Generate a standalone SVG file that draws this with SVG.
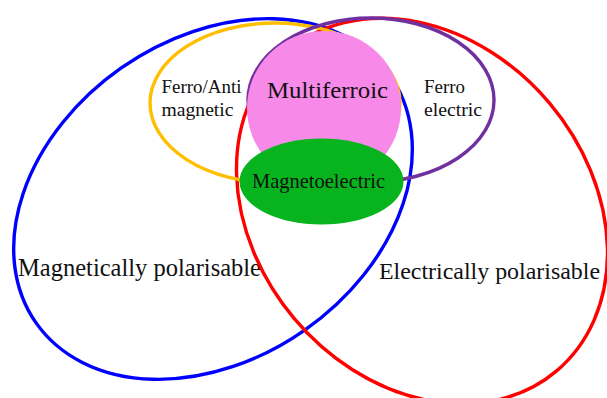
<svg xmlns="http://www.w3.org/2000/svg" width="607" height="398" viewBox="0 0 607 398">
  <style>
    .ring { fill: none; stroke-width: 3.4; }
    .lbl { font-family: "Liberation Serif", "Times New Roman", serif; fill: #111; }
  </style>
  <rect width="607" height="398" fill="#ffffff"/>

  <!-- Magnetically polarisable -->
  <g id="magnetic-set">
    <ellipse class="ring" cx="213" cy="199" rx="216" ry="160" transform="rotate(-35 213 199)" stroke="#0000ff"/>
    <text class="lbl" x="18" y="276" font-size="25" textLength="243" lengthAdjust="spacingAndGlyphs">Magnetically polarisable</text>
  </g>

  <!-- Electrically polarisable -->
  <g id="electric-set">
    <ellipse class="ring" cx="422" cy="211" rx="209" ry="167" transform="rotate(50 422 211)" stroke="#ff0000"/>
    <text class="lbl" x="379" y="279" font-size="24" textLength="221" lengthAdjust="spacingAndGlyphs">Electrically polarisable</text>
  </g>

  <!-- Ferro/Antimagnetic -->
  <g id="ferromagnetic">
    <ellipse class="ring" cx="275" cy="103" rx="125" ry="80" stroke="#ffbf00"/>
    <text class="lbl" x="161.5" y="93" font-size="19" textLength="80" lengthAdjust="spacingAndGlyphs">Ferro/Anti</text>
    <text class="lbl" x="161.5" y="116" font-size="19" textLength="72" lengthAdjust="spacingAndGlyphs">magnetic</text>
  </g>

  <!-- Ferroelectric -->
  <g id="ferroelectric">
    <ellipse class="ring" cx="371" cy="100" rx="123" ry="82" stroke="#7030a0" stroke-width="3.6"/>
    <text class="lbl" x="424" y="93" font-size="19" textLength="41" lengthAdjust="spacingAndGlyphs">Ferro</text>
    <text class="lbl" x="424" y="116" font-size="19" textLength="58" lengthAdjust="spacingAndGlyphs">electric</text>
  </g>

  <!-- Multiferroic -->
  <g id="multiferroic">
    <ellipse cx="324" cy="108" rx="77" ry="77" fill="#f78ae8"/>
    <text class="lbl" x="267" y="98" font-size="24" textLength="121" lengthAdjust="spacingAndGlyphs">Multiferroic</text>
  </g>

  <!-- Magnetoelectric -->
  <g id="magnetoelectric">
    <ellipse cx="321.5" cy="181.5" rx="82" ry="43" fill="#07b41d"/>
    <text class="lbl" x="252" y="188" font-size="21" textLength="133" lengthAdjust="spacingAndGlyphs">Magnetoelectric</text>
  </g>

  <g id="connectors"/>
</svg>
